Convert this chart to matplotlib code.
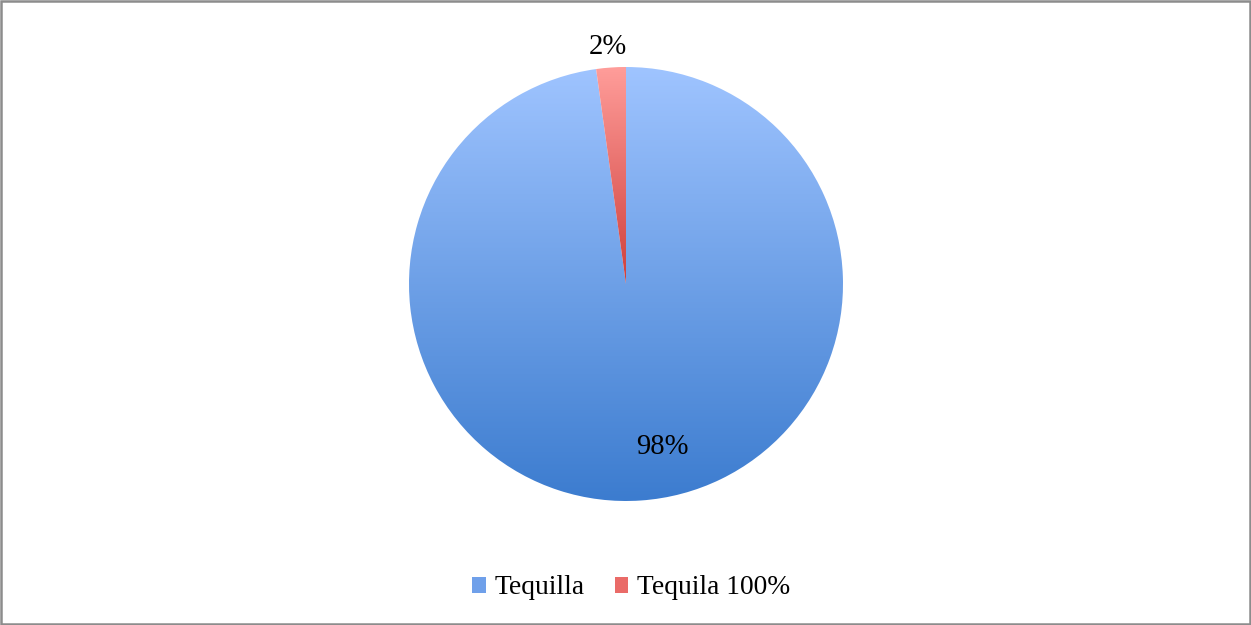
import numpy as np
import matplotlib
matplotlib.use("Agg")
import matplotlib.pyplot as plt
from matplotlib.colors import LinearSegmentedColormap
from matplotlib.patches import Patch, Rectangle

categories = ["Tequilla", "Tequila 100%"]
values = [97.8, 2.2]
labels = ["98%", "2%"]

top_colors = ["#9fc4ff", "#ff9d9a"]
bot_colors = ["#3c7ccf", "#cf3f3b"]

plt.rcParams['font.family'] = ['Liberation Serif', 'DejaVu Serif']

W, H = 1251, 625
fig = plt.figure(figsize=(W / 100, H / 100), dpi=100)
fig.patch.set_facecolor("white")
fig.patches.append(Rectangle((0.0008, 0.0016), 0.9984, 0.9968, transform=fig.transFigure,
                             fill=False, edgecolor="#8c8c8c", linewidth=1.8))

cx, cy, r = 626, H - 284, 217
ax = fig.add_axes([(cx - r) / W, (cy - r) / H, 2 * r / W, 2 * r / H])
ax.set_xlim(-1, 1)
ax.set_ylim(-1, 1)
ax.axis("off")

wedges, _ = ax.pie(values, startangle=90, counterclock=False, radius=1,
                   wedgeprops=dict(linewidth=0, edgecolor="none"))

for w, tc, bc in zip(wedges, top_colors, bot_colors):
    w.set_facecolor("none")
    cmap = LinearSegmentedColormap.from_list("g", [bc, tc])
    bb = w.get_path().get_extents(w.get_patch_transform())
    grad = np.linspace(0, 1, 256).reshape(-1, 1)
    im = ax.imshow(grad, cmap=cmap, origin="lower", aspect="auto",
                   extent=[bb.x0, bb.x1, bb.y0, bb.y1], zorder=1)
    im.set_clip_path(w)
ax.set_xlim(-1, 1)
ax.set_ylim(-1, 1)

ax.text(0.166, -0.751, labels[0], ha="center", va="center", fontsize=20.6, color="black")
ax.text(-0.083, 1.092, labels[1], ha="center", va="center", fontsize=20.6, color="black", clip_on=False)

handles = [Patch(facecolor=c, edgecolor="none") for c in ["#6fa0ea", "#ea6b68"]]
fig.legend(handles, categories, loc="center", bbox_to_anchor=(631 / W, 1 - 588 / H),
           ncol=2, frameon=False, fontsize=19.8, handlelength=0.5, handleheight=0.5,
           handletextpad=0.3, columnspacing=1.1)

fig.savefig("out.png", dpi=100, facecolor="white")
